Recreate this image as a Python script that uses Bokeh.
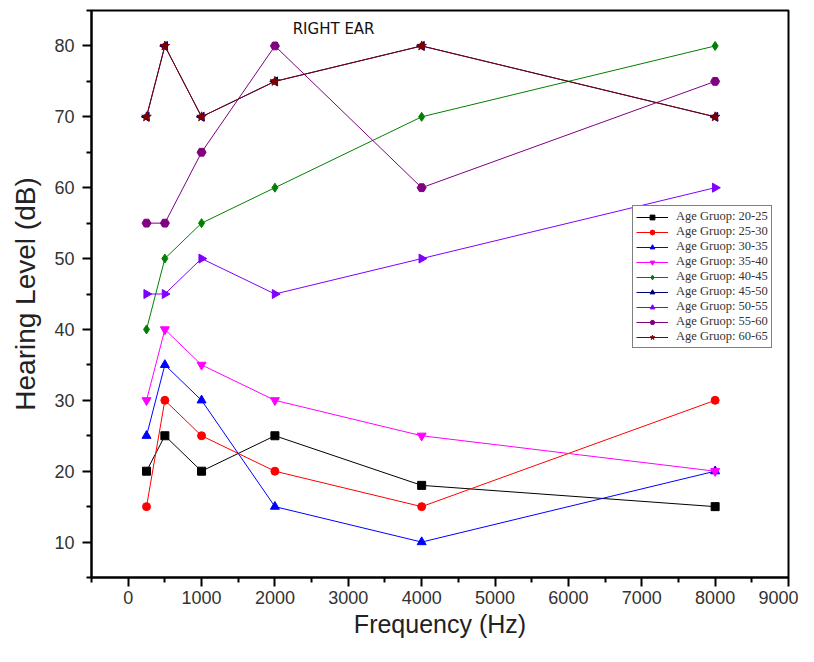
import math
from bokeh.plotting import figure
from bokeh.models import Legend, LegendItem, Range1d, FixedTicker
from bokeh.core.properties import value
from bokeh.embed import file_html
from bokeh.resources import INLINE

freqs = [250, 500, 1000, 2000, 4000, 8000]
groups = ["Age Gruop: 20-25", "Age Gruop: 25-30", "Age Gruop: 30-35", "Age Gruop: 35-40",
          "Age Gruop: 40-45", "Age Gruop: 45-50", "Age Gruop: 50-55", "Age Gruop: 55-60",
          "Age Gruop: 60-65"]
g20_25 = [20, 25, 20, 25, 18, 15]
g25_30 = [15, 30, 25, 20, 15, 30]
g30_35 = [25, 35, 30, 15, 10, 20]
g35_40 = [30, 40, 35, 30, 25, 20]
g40_45 = [40, 50, 55, 60, 70, 80]
g45_50 = [70, 80, 70, 75, 80, 70]
g50_55 = [45, 45, 50, 45, 50, 60]
g55_60 = [55, 55, 65, 80, 60, 75]
g60_65 = [70, 80, 70, 75, 80, 70]
series = [g20_25, g25_30, g30_35, g35_40, g40_45, g45_50, g50_55, g55_60, g60_65]
x_ticks = [0, 1000, 2000, 3000, 4000, 5000, 6000, 7000, 8000, 9000]
y_ticks = [10, 20, 30, 40, 50, 60, 70, 80]

colors = ["#000000", "#FF0000", "#0000FF", "#FF00FF", "#008000", "#000080", "#8000FF", "#800080", "#800000"]
markers = ["square", "circle", "triangle", "inverted_triangle", "diamond", "triangle", "triangle", "hex", "star"]
angles = [0, 0, 0, 0, 0, math.pi / 2, -math.pi / 2, 0, 0]
sizes = [8, 8, 9, 9, 9, 9, 9, 9, 10]

p = figure(width=798, height=646, output_backend="svg", toolbar_location=None,
           x_range=Range1d(-500, 9000), y_range=Range1d(5, 85),
           min_border_left=91, min_border_right=10, min_border_top=10, min_border_bottom=69)
p.background_fill_color = "white"
p.border_fill_color = "white"
p.outline_line_color = "black"
p.outline_line_width = 2
p.xgrid.visible = False
p.ygrid.visible = False

items = []
for name, ys, c, m, a, s in zip(groups, series, colors, markers, angles, sizes):
    ln = p.line(freqs, ys, line_color=c, line_width=1)
    sc = p.scatter(freqs, ys, marker=m, angle=a, size=s, fill_color=c, line_color=c)
    items.append(LegendItem(label=name, renderers=[ln, sc]))

for ax in (p.xaxis[0], p.yaxis[0]):
    ax.axis_line_width = 2
    ax.axis_line_color = "black"
    ax.major_tick_line_width = 2
    ax.minor_tick_line_width = 2
    ax.major_tick_out = 9
    ax.major_tick_in = 0
    ax.minor_tick_out = 5
    ax.minor_tick_in = 0
    ax.major_label_text_font = "Liberation Sans"
    ax.major_label_text_font_size = "18px"
    ax.major_label_text_color = "#333333"
    ax.axis_label_text_font = "Liberation Sans"
    ax.axis_label_text_font_style = "normal"
    ax.axis_label_text_color = "#222222"

p.xaxis.axis_label_text_font_size = "25px"
p.yaxis.axis_label_text_font_size = "28px"
p.xaxis.ticker = FixedTicker(ticks=x_ticks, minor_ticks=[v + 500 for v in [-1000] + x_ticks])
p.yaxis.ticker = FixedTicker(ticks=y_ticks, minor_ticks=[v + 5 for v in [0] + y_ticks])
p.xaxis.axis_label = "Frequency (Hz)"
p.yaxis.axis_label = "Hearing Level (dB)"
p.xaxis.major_label_standoff = 4
p.yaxis.major_label_standoff = 8
p.xaxis.axis_label_standoff = 3
p.yaxis.axis_label_standoff = 10

p.text(x=[2800], y=[82.4], text=["RIGHT EAR"], text_font=value("DejaVu Sans"),
       text_font_size="15px", text_align="center", text_baseline="middle", text_color="#111111")

legend = Legend(items=items, location=(541, 229))
legend.label_text_font = "Liberation Serif"
legend.label_text_font_size = "12.5px"
legend.label_text_color = "#333333"
legend.glyph_width = 32
legend.glyph_height = 12
legend.label_height = 12
legend.label_standoff = 8
legend.spacing = 0
legend.padding = 3
legend.margin = 0
legend.border_line_color = "black"
legend.border_line_width = 1
legend.background_fill_alpha = 1
p.add_layout(legend)

open("out.html", "w").write(file_html(p, INLINE))
